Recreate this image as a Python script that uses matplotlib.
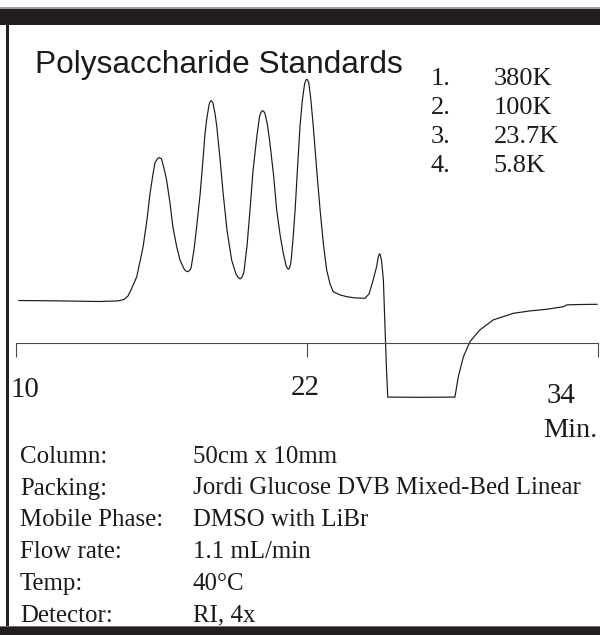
import matplotlib
matplotlib.use("Agg")
import matplotlib.pyplot as plt
from matplotlib.patches import Rectangle

# Polysaccharide standards chromatogram (GPC, RI detector)

# retention time (min) and detector response (mV)
time_min = [
    10.12, 11.81, 13.46, 14.21, 14.45, 14.62, 14.78, 14.98, 15.11, 15.24,
    15.40, 15.53, 15.65, 15.73, 15.84, 15.91, 16.00, 16.10, 16.21, 16.35,
    16.47, 16.62, 16.76, 16.93, 17.00, 17.08, 17.15, 17.22, 17.34, 17.45,
    17.59, 17.71, 17.79, 17.86, 17.96, 18.00, 18.04, 18.08, 18.12, 18.21,
    18.28, 18.41, 18.54, 18.70, 18.89, 19.07, 19.16, 19.24, 19.32, 19.40,
    19.53, 19.65, 19.77, 19.93, 20.04, 20.10, 20.16, 20.22, 20.27, 20.37,
    20.47, 20.62, 20.75, 20.89, 21.02, 21.13, 21.18, 21.23, 21.28, 21.34,
    21.42, 21.51, 21.61, 21.71, 21.81, 21.90, 21.95, 21.99, 22.03, 22.08,
    22.16, 22.26, 22.39, 22.54, 22.68, 22.81, 22.95, 23.08, 23.36, 23.64,
    23.98, 24.39, 24.56, 24.73, 24.87, 24.93, 24.98, 25.02, 25.07, 25.15,
    25.22, 25.28, 25.33, 26.66, 28.10, 28.24, 28.45, 28.72, 29.13, 29.68,
    30.51, 31.20, 31.88, 32.57, 32.71, 33.26, 33.96,
]
signal_mv = [
    21.4, 21.2, 20.9, 21.2, 21.9, 23.7, 27.7, 33.3, 40.7, 48.2,
    61.7, 75.2, 84.7, 90.2, 92.4, 92.9, 92.2, 87.7, 81.7, 70.2,
    58.2, 48.7, 41.7, 37.2, 36.2, 35.8, 36.3, 37.7, 46.7, 58.3,
    74.2, 91.7, 104.2, 111.7, 119.2, 120.7, 121.3, 121.0, 120.2, 114.7,
    108.3, 92.7, 75.2, 56.7, 41.7, 34.7, 32.9, 32.2, 33.0, 35.7,
    49.2, 66.7, 85.7, 103.3, 113.2, 115.4, 116.3, 115.9, 114.7, 109.2,
    100.2, 84.2, 66.7, 54.2, 45.2, 39.2, 37.7, 37.0, 37.6, 40.7,
    51.7, 66.7, 87.7, 108.3, 121.7, 129.7, 131.5, 132.0, 131.6, 129.7,
    121.7, 108.3, 88.2, 66.7, 49.2, 36.7, 29.7, 25.8, 24.2, 23.3,
    22.7, 22.5, 24.7, 31.7, 38.3, 42.6, 44.7, 44.3, 41.7, 31.7,
    6.7, -13.4, -26.9, -27.0, -26.9, -16.7, -6.7, 0.8, 6.7, 11.7,
    15.0, 16.2, 17.0, 18.3, 19.2, 19.4, 19.5,
]

tick_values = [10, 22, 34]
axis_unit = "Min."

standard_numbers = ["1.", "2.", "3.", "4."]
standard_mw = ["380K", "100K", "23.7K", "5.8K"]

condition_names = ["Column:", "Packing:", "Mobile Phase:", "Flow rate:", "Temp:", "Detector:"]
condition_values = [
    "50cm x 10mm",
    "Jordi Glucose DVB Mixed-Bed Linear",
    "DMSO with LiBr",
    "1.1 mL/min",
    "40°C",
    "RI, 4x",
]

title = "Polysaccharide Standards"

W, H, DPI = 600, 635, 100
INK = "#1c1a1b"
SERIF = ["Liberation Serif", "DejaVu Serif"]
SANS = ["Liberation Sans", "DejaVu Sans"]


def fx(px):
    return px / W


def fy(py):
    return 1 - py / H


fig = plt.figure(figsize=(W / DPI, H / DPI), dpi=DPI)
fig.patch.set_facecolor("white")

# black frame: top bar, left edge, bottom bar
fig.add_artist(Rectangle((fx(0), fy(8.5)), 1, 1 / H, transform=fig.transFigure,
                         color="#a0a0a0", lw=0))
fig.add_artist(Rectangle((fx(0), fy(25)), 1, 16 / H, transform=fig.transFigure,
                         color="#231f20", lw=0))
fig.add_artist(Rectangle((fx(6), fy(635)), 3 / W, 610 / H, transform=fig.transFigure,
                         color="#231f20", lw=0))
fig.add_artist(Rectangle((fx(0), fy(635)), 1, 9 / H, transform=fig.transFigure,
                         color="#231f20", lw=0))
fig.add_artist(Rectangle((fx(0), fy(626.5)), 1, 1 / H, transform=fig.transFigure,
                         color="#707070", lw=0))

# chromatogram axes, x: 10 -> 34 min spans px 16 -> 598
ax = fig.add_axes([fx(16), fy(420), 582 / W, 360 / H])
ax.patch.set_alpha(0)
ax.set_xlim(10, 34)
ax.set_ylim(-38.35, 141.65)
ax.plot(time_min, signal_mv, color=INK, lw=0.85, solid_joinstyle="round")

for side in ["top", "left", "right"]:
    ax.spines[side].set_visible(False)
ax.spines["bottom"].set_position(("data", 0))
ax.spines["bottom"].set_color("#4a4a4a")
ax.spines["bottom"].set_linewidth(0.8)
ax.set_xticks(tick_values)
ax.set_yticks([])
ax.tick_params(axis="x", direction="out", length=10, width=0.8, color="#4a4a4a",
               labelbottom=False)

# tick labels sit at uneven heights in the original
tick_label_pos = [(10.5, 397, "left"), (305, 395, "center"), (546.5, 403, "left")]
for val, (px, py, ha) in zip(tick_values, tick_label_pos):
    fig.text(fx(px), fy(py), str(val), ha=ha, va="baseline", fontsize=20.8,
             family=SERIF, color=INK)
# unit label runs to the right edge; keep it just inside
fig.text(fx(597), fy(437), axis_unit, ha="right", va="baseline", fontsize=20.3,
         family=SERIF, color=INK)

# title
fig.text(fx(34.6), fy(72.7), title, ha="left", va="baseline", fontsize=22.8,
         family=SANS, color=INK)

# molecular weights of the standards
for i, (num, mw) in enumerate(zip(standard_numbers, standard_mw)):
    base = 85 + 29 * i
    fig.text(fx(430.5), fy(base), num, ha="left", va="baseline", fontsize=19,
             family=SERIF, color=INK)
    fig.text(fx(493.5), fy(base), mw, ha="left", va="baseline", fontsize=19,
             family=SERIF, color=INK)

# run conditions
for i, (name, value) in enumerate(zip(condition_names, condition_values)):
    base = 462.7 + 31.8 * i
    fig.text(fx(20), fy(base), name, ha="left", va="baseline", fontsize=17.9,
             family=SERIF, color=INK)
    fig.text(fx(192.5), fy(base), value, ha="left", va="baseline", fontsize=17.9,
             family=SERIF, color=INK)

fig.savefig("out.png", dpi=DPI)
